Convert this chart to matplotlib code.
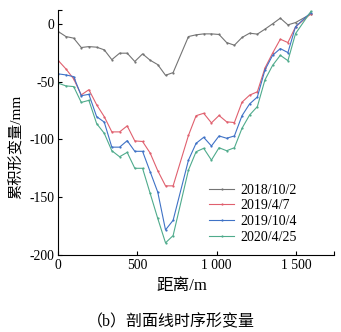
import matplotlib
matplotlib.use("Agg")
import matplotlib.pyplot as plt
from matplotlib.ticker import FixedLocator

plt.rcParams['font.family'] = ['Liberation Serif', 'Noto Sans CJK SC', 'DejaVu Sans']
plt.rcParams['axes.unicode_minus'] = False

# Survey points along the profile line (m)
distance = [0, 48, 97, 145, 193, 242, 290, 338, 387, 435, 483, 532, 580, 628,
            677, 725, 822, 870, 918, 967, 1015, 1063, 1112, 1160, 1208, 1257,
            1305, 1353, 1402, 1450, 1498, 1595]

dates = ["2018/10/2", "2019/4/7", "2019/10/4", "2020/4/25"]

# Cumulative deformation (mm) at each survey point
def_2018_10_2 = [-6.7, -11, -12.4, -20.5, -19.7, -20.2, -22.5, -31, -25.4, -25.4,
                 -32.6, -26, -31.5, -35.3, -44.5, -42.2, -11, -9.5, -8.7, -8.7,
                 -9.2, -16.2, -18.5, -11.8, -8.1, -8.9, -4.6, 0, 4.9, -0.9, 1.1, 8.5]
def_2019_4_7 = [-31.8, -39, -47.7, -61.5, -57, -70, -80.3, -93.5, -93.5, -88.3,
                -101.3, -101.8, -111.8, -127.1, -140.2, -140.2, -96.5, -79.5, -77.4,
                -85.7, -79.3, -84.8, -85.4, -67.8, -61.7, -58.8, -38.2, -25.4, -13.3,
                -16.2, -2.6, 8.7]
def_2019_10_4 = [-43.3, -44.2, -45.7, -62.2, -61, -80.3, -85, -106.7, -106.7, -101.1,
                 -110.3, -110.3, -128, -145.6, -178.3, -170, -117.9, -103.4, -98.2,
                 -105.7, -97, -99, -97, -79.5, -69.3, -63.3, -39.9, -27.3, -21.4,
                 -24.9, -2.5, 9.8]
def_2020_4_25 = [-51.4, -53.7, -54.3, -68, -66.2, -86.3, -94.7, -109.8, -115, -111.2,
                 -125, -125, -146.7, -168.4, -189.5, -183.2, -126.5, -110.7, -107.7,
                 -117.9, -107.2, -109.8, -107.2, -90.4, -78.9, -71.6, -48.5, -36, -27.2,
                 -31.9, -8.5, 10.7]

series = [def_2018_10_2, def_2019_4_7, def_2019_10_4, def_2020_4_25]
colors = ["#747474", "#e0606e", "#3f72c6", "#4fab8c"]

fig = plt.figure(figsize=(3.41, 3.32), dpi=100)
ax = fig.add_axes([0.171, 0.232, 0.808, 0.738])

for vals, c, lab in zip(series, colors, dates):
    ax.plot(distance, vals, color=c, lw=0.8, marker='o', ms=1.6, mew=0,
            label=lab)

ax.set_xlim(0, 1740)
ax.set_ylim(-200, 12)
ax.xaxis.set_major_locator(FixedLocator([0, 500, 1000, 1500]))
ax.xaxis.set_minor_locator(FixedLocator([1740]))
ax.yaxis.set_major_locator(FixedLocator([-200, -150, -100, -50, 0]))
ax.yaxis.set_minor_locator(FixedLocator([12]))
ax.set_xticklabels(["0", "500", "1 000", "1 500"])
ax.set_yticklabels(["-200", "-150", "-100", "-50", "0"])

ax.tick_params(which='both', direction='in', length=3, width=0.8,
               labelsize=9.8, pad=3)
ax.spines['top'].set_visible(False)
ax.spines['right'].set_visible(False)
for s in ('left', 'bottom'):
    ax.spines[s].set_linewidth(0.8)

ax.set_xlabel("距离/m", fontsize=12)
ax.xaxis.set_label_coords(0.45, -0.095)
ax.set_ylabel("累积形变量/mm", fontsize=11)
ax.yaxis.set_label_coords(-0.125, 0.44)

ax.legend(loc='lower right', bbox_to_anchor=(0.905, 0.0), frameon=False,
          fontsize=10, handlelength=1.8, handletextpad=0.4,
          labelspacing=0.2, borderaxespad=0.4)

fig.text(0.5, 0.03, "（b）剖面线时序形变量", ha='center', va='center',
         fontsize=11.5)

fig.savefig("out.png", dpi=100)
